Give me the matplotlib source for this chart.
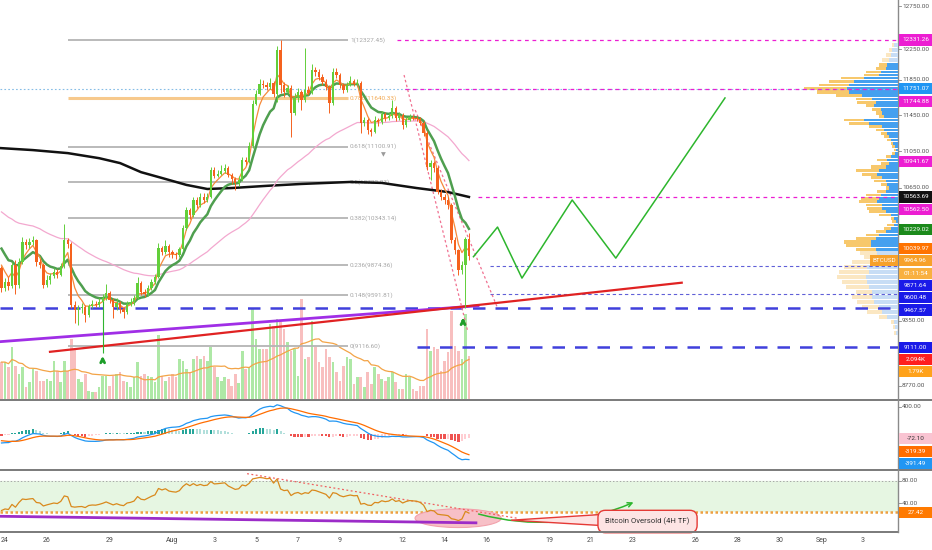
import numpy as np
import pandas as pd
import matplotlib
matplotlib.use('Agg')
import matplotlib.pyplot as plt
from matplotlib.patches import Rectangle, Ellipse, Polygon
from matplotlib.lines import Line2D
from matplotlib.ticker import NullLocator
from matplotlib.transforms import blended_transform_factory

plt.rcParams['font.family'] = ['Roboto', 'DejaVu Sans']

# ---------------- data: BTCUSD 4H, Jul 23 20:00 -> Aug 15 04:00 ----------------
first_open = 9850
close = [
    9655, 9715, 9675, 9880, 9685, 9908, 10105, 10075, 10105, 10125,
    9908, 9880, 9685, 9733, 9772, 9811, 9782, 9869, 10125, 10085,
    9497, 9450, 9469, 9478, 9404, 9487, 9506, 9497, 9525, 9562,
    9610, 9543, 9478, 9515, 9459, 9431, 9506, 9525, 9562, 9705,
    9619, 9600, 9657, 9714, 9762, 10045, 10005, 10065, 10005, 9986,
    9976, 10035, 10246, 10428, 10377, 10532, 10480, 10563, 10532, 10563,
    10847, 10784, 10805, 10837, 10869, 10795, 10752, 10710, 10742, 10955,
    10933, 11107, 11577, 11692, 11808, 11796, 11773, 11819, 11692, 12209,
    11796, 11715, 11761, 11474, 11646, 11715, 11623, 11738, 11704, 11971,
    11947, 11889, 11831, 11773, 11588, 11947, 11912, 11796, 11738, 11796,
    11842, 11808, 11819, 11362, 11396, 11284, 11262, 11396, 11374, 11463,
    11418, 11441, 11531, 11418, 11452, 11340, 11396, 11430, 11418, 11407,
    11362, 11250, 10880, 10922, 10869, 10615, 10563, 10532, 10480, 10125,
    10025, 9830, 9878, 10135, 9964.96]
high = [
    9870, 9750, 9760, 9910, 9930, 9950, 10160, 10140, 10150, 10170,
    10140, 9940, 9900, 9780, 9800, 9850, 9840, 9900, 10290, 10150,
    10110, 9530, 9500, 9520, 9500, 9510, 9540, 9530, 9560, 9600,
    9700, 9630, 9560, 9560, 9530, 9480, 9530, 9560, 9590, 9760,
    9720, 9650, 9690, 9740, 9790, 10095, 10070, 10130, 10090, 10030,
    10010, 10060, 10280, 10460, 10450, 10560, 10560, 10600, 10600, 10610,
    10880, 10880, 10850, 10900, 10910, 10890, 10820, 10770, 10780, 10990,
    10990, 11150, 11620, 11740, 11870, 11850, 11830, 11880, 11840, 12260,
    12327.45, 11830, 11790, 11800, 11700, 11760, 11740, 12233, 11780, 12040,
    12010, 11980, 11920, 11860, 11800, 11990, 11990, 11940, 11820, 11830,
    11900, 11870, 11860, 11840, 11430, 11420, 11310, 11440, 11420, 11500,
    11490, 11480, 11623, 11550, 11490, 11470, 11430, 11460, 11455, 11440,
    11430, 11380, 11270, 10960, 10940, 10890, 10650, 10590, 10560, 10500,
    10160, 10040, 9920, 10160, 10200]
low = [
    9620, 9630, 9640, 9660, 9600, 9660, 9890, 10040, 10050, 10080,
    9870, 9850, 9660, 9670, 9700, 9750, 9750, 9770, 9850, 10050,
    9470, 9330, 9310, 9420, 9340, 9390, 9470, 9475, 9480, 9510,
    9540, 9520, 9376, 9450, 9420, 9376, 9410, 9490, 9500, 9550,
    9590, 9570, 9580, 9640, 9700, 9750, 9980, 9990, 9960, 9950,
    9940, 9960, 10020, 10230, 10340, 10360, 10450, 10460, 10500, 10510,
    10550, 10760, 10770, 10790, 10820, 10770, 10700, 10636, 10680, 10730,
    10900, 10920, 11090, 11560, 11680, 11760, 11740, 11750, 11660, 11600,
    11700, 11660, 11700, 11206, 11450, 11600, 11508, 11600, 11680, 11690,
    11900, 11850, 11790, 11740, 11474, 11570, 11880, 11760, 11700, 11720,
    11780, 11780, 11790, 11250, 11330, 11240, 11220, 11250, 11330, 11350,
    11390, 11400, 11420, 11390, 11400, 11300, 11320, 11380, 11395, 11380,
    11340, 11220, 10850, 10742, 10830, 10590, 10530, 10490, 10440, 10100,
    9990, 9782, 9790, 9467.57, 9930]
volume_k = [
    1.80, 1.80, 1.56, 2.54, 1.61, 1.22, 1.56, 0.59, 0.83, 1.46,
    1.37, 0.88, 0.88, 0.98, 0.88, 1.85, 1.37, 0.83, 1.85, 1.37,
    2.93, 2.44, 0.98, 0.83, 1.22, 0.39, 0.34, 0.34, 0.59, 1.12,
    1.12, 0.63, 1.12, 1.22, 1.32, 0.88, 0.83, 0.59, 1.07, 1.80,
    1.12, 1.22, 1.12, 1.07, 0.83, 3.12, 1.12, 0.88, 1.07, 1.22,
    1.07, 1.95, 1.85, 1.46, 1.32, 1.95, 2.10, 1.95, 2.10, 1.85,
    2.54, 1.56, 1.07, 0.88, 1.07, 0.98, 0.63, 1.22, 0.80, 2.34,
    1.46, 1.56, 4.39, 2.93, 2.44, 2.44, 2.44, 3.66, 3.56, 3.90,
    3.76, 3.41, 2.78, 2.34, 2.44, 1.12, 4.88, 1.95, 2.05, 3.80,
    2.54, 1.80, 1.56, 2.44, 2.05, 1.80, 1.32, 0.88, 1.61, 2.05,
    1.95, 0.73, 1.07, 1.07, 0.59, 1.32, 0.73, 1.56, 1.22, 0.98,
    0.88, 1.07, 1.32, 0.83, 0.49, 0.49, 1.22, 1.07, 0.49, 0.39,
    0.63, 0.63, 3.41, 2.34, 2.54, 2.44, 1.37, 1.85, 2.29, 4.29,
    2.59, 2.34, 1.95, 4.15, 2.094]

# 200 MA (bar index, price)
ma200_idx = [-0.4, 9, 19, 28, 34, 40, 46, 53, 59, 66, 76, 86, 100, 109, 119, 128, 134]
ma200_val = [11085, 11063, 11030, 10975, 10922, 10825, 10763, 10690, 10647, 10657,
             10680, 10700, 10721, 10711, 10657, 10615, 10563.69]

# fibonacci retracement
fib_hi, fib_lo = 12327.45, 9116.60
fib_ratios = [1, 0.786, 0.618, 0.5, 0.382, 0.236, 0.148, 0]

# drawings
proj_idx = [135.3, 142.2, 149.2, 163.6, 176.1, 207.4]
proj_price = [9960, 10255, 9752, 10532, 9946, 11646]
chan1_idx, chan1_price = [115.4, 133.7], [11912, 9248]
chan2_idx, chan2_price = [118.6, 142.1], [11508, 9478]
purple_idx, purple_price = [-0.43, 136.6], [9160, 9490]
red_idx, red_price = [13.9, 195.0], [9069, 9708]
arrow_idx = [29.0, 132.3]
arrow_tip = [9058, 9405]
arrow_tail = [8961, 9302]

# right-side volume profile (price row, total, up volume)
vp_price = [12269, 12209, 12150, 12089, 12030, 11985, 11950, 11915, 11880, 11833,
            11798, 11761, 11715, 11670, 11635, 11600, 11555, 11520, 11474, 11430,
            11396, 11362, 11318, 11284, 11251, 11206, 11173, 11140, 11096, 11063,
            11030, 10987, 10955, 10922, 10880, 10836, 10805, 10763, 10731, 10699,
            10657, 10615, 10584, 10553, 10511, 10480, 10449, 10408, 10377, 10346,
            10306, 10276, 10246, 10205, 10175, 10145, 10105, 10065, 10035, 9995,
            9956, 9908, 9859, 9811, 9762, 9714, 9667, 9619, 9571, 9525,
            9478, 9431, 9385, 9339, 9290, 9237]
vp_total = [5.7, 9, 12.3, 15.7, 19, 22.3, 32.3, 34, 57.3, 69,
            79, 94, 80.7, 62.3, 42.3, 40.7, 32.3, 25.7, 22.3, 19,
            54, 49, 29, 22.3, 17.3, 14, 10.7, 7.3, 5.7, 4,
            5.7, 12.3, 20.7, 17.3, 27.3, 42.3, 35.7, 27.3, 24, 17.3,
            12.3, 20.7, 32.3, 37.3, 39, 32.3, 30.7, 29, 19, 7.3,
            5.7, 10.7, 14, 22.3, 32.3, 42.3, 54, 52.3, 42.3, 38,
            34, 45.7, 54, 59, 60.7, 55.7, 52.3, 42.3, 45.7, 40.7,
            35.7, 30.7, 19, 7.3, 5, 4]
vp_up = [4, 5.7, 7.3, 9, 10.7, 12.3, 17.3, 19, 34, 44,
         49, 50.7, 49, 35.7, 25.7, 22.3, 24, 17.3, 15.7, 14,
         34, 29, 15.7, 14, 10.7, 9, 7.3, 5, 3.3, 2.3,
         3, 7.3, 10.7, 9, 12.3, 19, 20.7, 15.7, 12.3, 10.7,
         9, 12.3, 17.3, 19, 20.7, 15.7, 15.7, 12.3, 7.3, 4,
         2.3, 4, 7.3, 12.3, 19, 22.3, 27.3, 27.3, 22.3, 21,
         19, 25.7, 30.7, 29, 32.3, 30.7, 29, 25.7, 25.7, 24,
         19, 15.7, 10.7, 4, 3, 2.3]

# axis labels
date_days = [0, 2, 5, 8, 10, 12, 14, 16, 19, 21, 23, 26, 28, 30, 33, 35, 37, 39, 41]
date_labels = ['24', '26', '29', 'Aug', '3', '5', '7', '9', '12', '14', '16', '19',
               '21', '23', '26', '28', '30', 'Sep', '3']
price_ticks = [12750, 12250, 11850, 11450, 11050, 10650, 10250, 9850, 9350, 9150, 8770]
MAGENTA = '#ec1ed2'
BLUE_TAG = '#1a1ae8'
price_tags = [
    (12331.26, '12331.26', MAGENTA), (11751.07, '11751.07', '#2196f3'),
    (11744.88, '11744.88', MAGENTA), (10941.67, '10941.67', MAGENTA),
    (10563.69, '10563.69', '#111111'), (10562.50, '10562.50', MAGENTA),
    (10229.02, '10229.02', '#1b8a1b'), (10039.97, '10039.97', '#ff7300'),
    (9964.96, '9964.96', '#f7a12a'), (9964.96, '01:11:54', '#f9b040'),
    (9871.64, '9871.64', BLUE_TAG), (9600.48, '9600.48', BLUE_TAG),
    (9467.57, '9467.57', BLUE_TAG), (9111.00, '9111.00', BLUE_TAG)]
vol_tags = [(2.094, '2.094K', '#ff1f1f'), (1.79, '1.79K', '#ffa21a')]

# ---------------- indicators ----------------
def ema(values, n, seed):
    a = 2.0 / (n + 1)
    out, e = [], seed
    for v in values:
        e = e + a * (v - e)
        out.append(e)
    return np.array(out)


def rsi_wilder(values, n, prev, g0, l0):
    ag, al, out = g0, l0, []
    for v in values:
        d = v - prev
        prev = v
        ag = (ag * (n - 1) + max(d, 0)) / n
        al = (al * (n - 1) + max(-d, 0)) / n
        out.append(100 - 100 / (1 + ag / al))
    return np.array(out)


c = np.array(close, float)
o = np.r_[first_open, c[:-1]]
h = np.array(high, float)
l = np.array(low, float)
v = np.array(volume_k, float)
idx = np.arange(len(c))
up = c >= o

ema_fast = ema(c, 4, 10025)
ema_mid = ema(c, 10, 10125)
ema_slow = ema(c, 50, 10440)
vol_ma = pd.Series(v).rolling(20, min_periods=1).mean()
macd = ema(c, 12, 9820) - ema(c, 26, 9960)
signal = ema(macd, 9, -100)
hist = macd - signal
rsi = rsi_wilder(c, 14, first_open, 40, 75)

# ---------------- layout ----------------
W, H = 932, 550
PANE_R = 898
XMIN, XMAX = -0.43, 257.0
fig = plt.figure(figsize=(W / 100, H / 100), dpi=100)
fig.patch.set_facecolor('white')


def pane(top, bottom):
    return [0, 1 - bottom / H, PANE_R / W, (bottom - top) / H]


ax_vol = fig.add_axes(pane(0, 399))
ax = fig.add_axes(pane(0, 399), sharex=ax_vol)
ax_macd = fig.add_axes(pane(400, 469), sharex=ax_vol)
ax_rsi = fig.add_axes(pane(470, 531.7), sharex=ax_vol)
ax.set_zorder(2)
ax.patch.set_alpha(0)

for a in (ax_vol, ax, ax_macd, ax_rsi):
    for s in a.spines.values():
        s.set_visible(False)
    a.tick_params(left=False, bottom=False, labelleft=False, labelbottom=False)
ax.set_yscale('log')
for a in (ax_vol, ax, ax_macd, ax_rsi):
    a.yaxis.set_major_locator(NullLocator())
    a.yaxis.set_minor_locator(NullLocator())
    a.xaxis.set_major_locator(NullLocator())
    a.xaxis.set_minor_locator(NullLocator())

ax.set_xlim(XMIN, XMAX)
ax.set_ylim(8657, 12826)
ax_vol.set_ylim(0, 19.46)
ax_macd.set_ylim(-535, 505)
ax_rsi.set_ylim(-4.4, 98)

# ---------------- volume ----------------
ax_vol.bar(idx, v, width=0.75, color=np.where(up, '#aee8a6', '#f8bfbf'), zorder=1)
ax_vol.plot(idx, vol_ma, color='#f3a447', lw=0.9, zorder=2)

# ---------------- fib ----------------
for r in fib_ratios:
    p = fib_lo + r * (fib_hi - fib_lo)
    col = '#f7c98c' if r == 0.786 else '#b4b4b4'
    tcol = '#f2aa55' if r == 0.786 else '#a6a6a6'
    ax.hlines(p, 19.1, 99.3, color=col, lw=2.2 if r == 0.786 else 1.3, zorder=2)
    ax.text(99.9, p, f'{r}({p:.2f})', fontsize=4.6, color=tcol, va='center', ha='left', zorder=2)

# ---------------- horizontal levels ----------------
ax.axhline(11751.07, color='#86bde6', lw=0.8, ls=(0, (1.5, 2)), zorder=2)
for price, x0 in [(12331.26, 113.4), (11744.88, 115.7), (10562.50, 136.6)]:
    ax.hlines(price, x0, XMAX, color=MAGENTA, lw=0.9, linestyles=(0, (3, 3)), zorder=2)
for price in (9871.64, 9600.48):
    ax.hlines(price, 140.1, XMAX, color='#6060d8', lw=0.8, linestyles=(0, (3, 2.5)), zorder=2)
ax.hlines(9467.57, XMIN, XMAX, color='#4040dc', lw=1.8, linestyles=(0, (5, 4)), zorder=2)
ax.hlines(9111.00, 119.1, XMAX, color='#4040dc', lw=1.8, linestyles=(0, (5, 4)), zorder=2)

# trend lines
ax.plot(purple_idx, purple_price, color='#a02ee6', lw=2.0, zorder=3)
ax.plot(red_idx, red_price, color='#e02222', lw=1.6, zorder=3)
ax.plot(chan1_idx, chan1_price, color='#f07090', lw=0.9, ls=(0, (2, 2)), zorder=3)
ax.plot(chan2_idx, chan2_price, color='#f07090', lw=0.9, ls=(0, (2, 2)), zorder=3)

# ---------------- moving averages ----------------
ax.plot(ma200_idx, ma200_val, color='#111111', lw=1.8, zorder=3)
ax.plot(idx, ema_slow, color='#f3a8cf', lw=0.9, zorder=3)
ax.plot(idx, ema_mid, color='#4f9f4f', lw=1.8, zorder=4)
ax.plot(idx, ema_fast, color='#f68a3a', lw=0.9, zorder=4)

# ---------------- candles ----------------
ccol = np.where(up, '#62cf3a', '#f5621e')
ax.vlines(idx, l, h, color=ccol, lw=0.7, zorder=5)
body_lo = np.minimum(o, c)
body_h = np.maximum(np.abs(c - o), body_lo * 0.0008)
ax.bar(idx, body_h, bottom=body_lo, width=0.66, color=ccol, zorder=6)

# arrows
ax.vlines(arrow_idx[0], arrow_tip[0], 9543, color='#2fb52f', lw=0.8, zorder=5)
for xi, tip, tail in zip(arrow_idx, arrow_tip, arrow_tail):
    ax.annotate('', xy=(xi, tip), xytext=(xi, tail),
                arrowprops=dict(arrowstyle='->', color='#1e9e2a', lw=2.0, mutation_scale=7),
                zorder=7)
ax.text(109.4, 11010, '▼', fontsize=4.5, color='#9a9a9a', ha='center', va='center', zorder=5)

# projection
ax.plot(proj_idx, proj_price, color='#2db62d', lw=1.1, zorder=5)

# ---------------- volume profile ----------------
vp_p = np.array(vp_price, float)
lp = np.log(vp_p)
mids = (lp[:-1] + lp[1:]) / 2
top = np.r_[lp[0] + (lp[0] - lp[1]) / 2, mids]
bot = np.r_[mids, lp[-1] - (lp[-2] - lp[-1]) / 2]
top = np.minimum(top, lp + 0.0022) - 0.00035
bot = np.maximum(bot, lp - 0.0022) + 0.00035
scale = 27.0 / max(vp_total)
tw = np.array(vp_total) * scale
uw = np.array(vp_up) * scale
in_va = (vp_p >= 10000) & (vp_p <= 12050)
ax.barh(np.exp(bot), tw, height=np.exp(top) - np.exp(bot), left=XMAX - tw, align='edge',
        color=np.where(in_va, '#f7c86c', '#fbe7c2'), zorder=1)
ax.barh(np.exp(bot), uw, height=np.exp(top) - np.exp(bot), left=XMAX - uw, align='edge',
        color=np.where(in_va, '#45a0ef', '#c7ddf5'), zorder=1)

# ---------------- MACD ----------------
prev = np.r_[hist[0], hist[:-1]]
hcol = np.where(hist >= 0, np.where(hist >= prev, '#26a69a', '#b2dfdb'),
                np.where(hist <= prev, '#ef5350', '#ffcdd2'))
ax_macd.bar(idx, hist, width=0.6, color=hcol)
ax_macd.plot(idx, macd, color='#2196f3', lw=0.9)
ax_macd.plot(idx, signal, color='#ff6d00', lw=0.9)

# ---------------- RSI ----------------
ax_rsi.axhspan(30, 80, color='#e6f6e2', zorder=0)
ax_rsi.axhline(80, color='#a8a8a8', lw=0.7, ls=(0, (1.5, 2)), zorder=1)
ax_rsi.axhline(28, color='#eea040', lw=1.8, ls=(0, (1, 1)), zorder=1)
ax_rsi.add_patch(Ellipse((130.9, 18), 24.7, 31, fc='#f7c0c7', ec='#f2a2ac', lw=0.8, zorder=2))
ax_rsi.plot([-0.43, 136.0], [21.2, 10.3], color='#9c2cc8', lw=2.0, zorder=3)
ax_rsi.plot([70.4, 147.8], [91.9, 18.0], color='#f06060', lw=0.9, ls=(0, (1.5, 2)), zorder=3)
ax_rsi.plot(idx, rsi, color='#d9891c', lw=0.9, zorder=4)
ax_rsi.annotate('', xy=(181.9, 46.2), xytext=(136.0, 26.1),
                arrowprops=dict(arrowstyle='->', color='#2db62d', lw=1.1,
                                connectionstyle='arc3,rad=0.18', mutation_scale=8), zorder=5)
ax_rsi.add_patch(Polygon([(146.1, 14.7), (171.5, 24.0), (171.5, 6.0)], closed=True,
                         fc='#fde4e4', ec='#e53935', lw=1.0, zorder=5))
ax_rsi.text(185.2, 12.5, 'Bitcoin Oversold (4H TF)', fontsize=5.6, color='#333333',
            ha='center', va='center', zorder=6,
            bbox=dict(boxstyle='round,pad=0.95', fc='#fde4e4', ec='#e53935', lw=1.0))

# dates
tb = blended_transform_factory(ax_rsi.transData, ax_rsi.transAxes)
for d, lab in zip(date_days, date_labels):
    ax_rsi.text(1 + 6 * d, -0.15, lab, transform=tb, fontsize=5, color='#4a4a4a',
                ha='center', va='center', clip_on=False)

# ---------------- frame lines ----------------
for yy, x1 in [(399.5, W), (469.5, W), (531.7, PANE_R)]:
    fig.add_artist(Line2D([0, x1 / W], [1 - yy / H] * 2, color='#7a7a7a', lw=1.4,
                          transform=fig.transFigure))
fig.add_artist(Line2D([PANE_R / W] * 2, [1 - 531.7 / H, 1], color='#8a8a8a', lw=1.0,
                      transform=fig.transFigure))


# ---------------- price scale ----------------
def ypx(a, val):
    return H - a.transData.transform((0, val))[1]


def gray_tick(y, text):
    fig.add_artist(Line2D([PANE_R / W, (PANE_R + 3) / W], [1 - y / H] * 2, color='#888888',
                          lw=0.6, transform=fig.transFigure))
    fig.text((PANE_R + 4) / W, 1 - y / H, text, fontsize=4.6, color='#555555',
             ha='left', va='center', zorder=3)


def tag(y, text, bg, fg='white', x0=PANE_R + 1, w=33):
    fig.add_artist(Rectangle((x0 / W, 1 - (y + 5.6) / H), w / W, 11.2 / H, fc=bg, ec='none',
                             transform=fig.transFigure, zorder=5))
    fig.text((x0 + w / 2) / W, 1 - y / H, text, fontsize=4.6, color=fg,
             ha='center', va='center', zorder=6)


def stacked(ys, lo, hi, gap=12.3):
    ys = list(ys)
    for k in range(1, len(ys)):
        ys[k] = max(ys[k], ys[k - 1] + gap)
    if ys[-1] > hi:
        ys[-1] = hi
        for k in range(len(ys) - 2, -1, -1):
            ys[k] = min(ys[k], ys[k + 1] - gap)
    return ys


main_items = [(ypx(ax, val), txt, col) for val, txt, col in price_tags]
main_items += [(ypx(ax_vol, val), txt, col) for val, txt, col in vol_tags]
main_items.sort(key=lambda e: e[0])
main_ys = stacked([e[0] for e in main_items], 6, 393)

macd_items = [(ypx(ax_macd, -72.10), '-72.10', '#f9c4d2', '#333333'),
              (ypx(ax_macd, -319.39), '-319.39', '#ff6d00', 'white'),
              (ypx(ax_macd, -391.49), '-391.49', '#2196f3', 'white')]
macd_ys = stacked([e[0] for e in macd_items], 406, 463.5)
rsi_tag_y = ypx(ax_rsi, 27.42)
tag_ys = main_ys + macd_ys + [rsi_tag_y]

# gray scale labels: nudged clear of a coloured tag, left out where fully covered
tick_list = [(ypx(ax, t), f'{t:.2f}') for t in price_ticks]
tick_list += [(ypx(ax_macd, 400), '400.00'), (ypx(ax_rsi, 80), '80.00'),
              (ypx(ax_rsi, 40), '40.00')]
CLEAR = 9.2
for y, txt in tick_list:
    near = min(tag_ys, key=lambda ty: abs(ty - y))
    dy = y - near
    if abs(dy) >= CLEAR:
        gray_tick(y, txt)
    elif abs(dy) >= 5:
        y2 = near + np.sign(dy) * CLEAR
        if all(abs(y2 - ty) >= CLEAR - 0.01 for ty in tag_ys):
            gray_tick(y2, txt)

for y, (_, txt, col) in zip(main_ys, main_items):
    tag(y, txt, col)
    if txt == '9964.96':
        tag(y, 'BTCUSD', '#f7a12a', x0=PANE_R - 28, w=28)
for y, (_, txt, col, fg) in zip(macd_ys, macd_items):
    tag(y, txt, col, fg)
tag(rsi_tag_y, '27.42', '#ff7a00')

fig.savefig('out.png', dpi=100, facecolor='white')
